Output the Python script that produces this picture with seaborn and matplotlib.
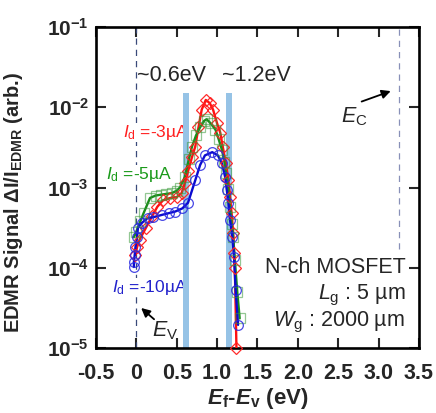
import numpy as np
import pandas as pd
import matplotlib
matplotlib.use("Agg")
import matplotlib.pyplot as plt
import seaborn as sns
from matplotlib.ticker import FixedLocator, FixedFormatter, NullLocator

# Ef-Ev (eV) and log10 of the EDMR signal
red_x = [-0.01, 0.01, 0.04, 0.12, 0.20, 0.26, 0.33, 0.42, 0.50, 0.56, 0.60, 0.64, 0.69,
         0.73, 0.77, 0.81, 0.86, 0.91, 0.95, 1.00, 1.04, 1.07, 1.11, 1.14, 1.16, 1.18,
         1.20, 1.21, 1.22, 1.24]
red_exp = [-3.84, -3.74, -3.65, -3.50, -3.35, -3.24, -3.16, -3.13, -3.12, -3.07, -2.95,
           -2.80, -2.62, -2.49, -2.25, -2.03, -1.91, -1.95, -2.03, -2.20, -2.32, -2.49,
           -2.70, -2.91, -3.12, -3.32, -3.57, -3.82, -4.00, -5.00]

green_x = [-0.03, 0.00, 0.05, 0.09, 0.17, 0.24, 0.30, 0.37, 0.44, 0.50, 0.54, 0.60, 0.65,
           0.69, 0.74, 0.79, 0.84, 0.87, 0.92, 0.98, 1.02, 1.06, 1.09, 1.11, 1.14, 1.16,
           1.18, 1.20, 1.22, 1.25, 1.28]
green_exp = [-3.62, -3.55, -3.42, -3.32, -3.13, -3.10, -3.09, -3.08, -3.07, -3.04, -3.00,
             -2.87, -2.65, -2.49, -2.35, -2.25, -2.17, -2.15, -2.20, -2.28, -2.40, -2.53,
             -2.68, -2.82, -3.02, -3.24, -3.45, -3.62, -3.90, -4.30, -4.63]

blue_x = [-0.03, -0.03, -0.02, -0.01, 0.01, 0.02, 0.07, 0.14, 0.21, 0.32, 0.40, 0.48,
          0.57, 0.64, 0.73, 0.79, 0.85, 0.94, 1.01, 1.06, 1.10, 1.12, 1.14, 1.16, 1.19,
          1.21, 1.23, 1.26]
blue_exp = [-3.99, -3.93, -3.84, -3.74, -3.62, -3.50, -3.44, -3.38, -3.37, -3.34, -3.32,
            -3.30, -3.26, -3.19, -2.91, -2.72, -2.60, -2.56, -2.60, -2.70, -2.87, -3.03,
            -3.19, -3.40, -3.62, -3.87, -4.28, -4.71]

ev_pos = 0.0
ec_pos = 3.25
ec_line_bottom = 1.7e-4
bands = [(0.58, 0.65), (1.11, 1.18)]
band_top = 1.5e-2

x_ticks = [-0.5, 0, 0.5, 1.0, 1.5, 2.0, 2.5, 3.0, 3.5]
x_labels = ["-0.5", "0", "0.5", "1.0", "1.5", "2.0", "2.5", "3.0", "3.5"]
y_ticks = [1e-5, 1e-4, 1e-3, 1e-2, 1e-1]
y_labels = [r"$\mathbf{10^{-5}}$", r"$\mathbf{10^{-4}}$", r"$\mathbf{10^{-3}}$",
            r"$\mathbf{10^{-2}}$", r"$\mathbf{10^{-1}}$"]

sns.set_style("ticks")
plt.rcParams["font.family"] = ["Liberation Sans", "DejaVu Sans"]
plt.rcParams.update({
    "mathtext.fontset": "custom",
    "mathtext.rm": "Liberation Sans",
    "mathtext.sf": "Liberation Sans",
    "mathtext.it": "Liberation Sans:italic",
    "mathtext.bf": "Liberation Sans:bold",
    "mathtext.bfit": "Liberation Sans:bold:italic",
})

fig = plt.figure(figsize=(4.36, 4.13), dpi=100)
ax = fig.add_axes([0.220, 0.157, 0.741, 0.778])

series = [
    (red_x, red_exp, "#ff1010", "#ff2020", "D", 6.5, 0.95),
    (green_x, green_exp, "#1a8c1a", "#3a9a3a", "s", 7.0, 0.55),
    (blue_x, blue_exp, "#0a0ad0", "#2828e0", "o", 7.0, 0.85),
]
for xs, ex, lcol, mcol, mk, ms, malpha in series:
    df = pd.DataFrame({"x": xs, "y": 10.0 ** np.array(ex)})
    sns.lineplot(data=df, x="x", y="y", sort=False, estimator=None, color=lcol,
                 lw=1.7, ax=ax, zorder=3)
    sns.lineplot(data=df, x="x", y="y", sort=False, estimator=None, color=mcol,
                 linestyle="none", marker=mk, markersize=ms, markerfacecolor="none",
                 markeredgecolor=mcol, markeredgewidth=0.9, alpha=malpha, ax=ax,
                 zorder=4, clip_on=False)

ax.set_yscale("log")
ax.set_xlim(-0.5, 3.5)
ax.set_ylim(1e-5, 1e-1)

frac = (np.log10(band_top) + 5) / 4
for lo, hi in bands:
    ax.axvspan(lo, hi, ymin=0, ymax=frac, color="#96c3e6", lw=0, zorder=1.3)

ax.axvline(ev_pos, color="#3a4a7a", lw=0.9, ls=(0, (5, 4)), zorder=1.0)
ax.vlines(ec_pos, ec_line_bottom, 1e-1, color="#8890b8", lw=0.9, ls=(0, (5, 4)), zorder=1.0)

ax.xaxis.set_major_locator(FixedLocator(x_ticks))
ax.xaxis.set_major_formatter(FixedFormatter(x_labels))
ax.yaxis.set_major_locator(FixedLocator(y_ticks))
ax.yaxis.set_major_formatter(FixedFormatter(y_labels))
ax.yaxis.set_minor_locator(NullLocator())
ax.xaxis.set_minor_locator(NullLocator())
ax.tick_params(direction="in", length=7, width=1.5, top=True, right=True, labelsize=15)
ax.tick_params(axis="x", pad=11, labelsize=15.5)
ax.tick_params(axis="y", pad=5)
for lab in ax.get_xticklabels():
    lab.set_fontweight("bold")
for sp in ax.spines.values():
    sp.set_linewidth(1.9)
    sp.set_color("black")

ax.set_xlabel(r"$\mathbfit{E}_{\mathbf{f}}$-$\mathbfit{E}_{\mathbf{v}}$ (eV)",
              fontsize=16, fontweight="bold", labelpad=1)
ax.set_ylabel(r"EDMR Signal ΔI/I$_{\mathbf{EDMR}}$ (arb.)", fontsize=14.5,
              fontweight="bold")
ax.yaxis.set_label_coords(-0.22, 0.455)

# labels sit on white so the Ev dashed line breaks behind them, but stay under the bands
white = dict(facecolor="white", edgecolor="none", pad=0)
ax.text(0.01, 10 ** -1.6, "~0.6eV", fontsize=15.5, va="center", ha="left")
ax.text(1.06, 10 ** -1.6, "~1.2eV", fontsize=15.5, va="center", ha="left")
ax.text(-0.16, 10 ** -2.31, r"$I_{\rm d}$ =-3µA", fontsize=12.5, color="#ff2020",
        va="center", bbox=white, zorder=1.2)
ax.text(-0.38, 10 ** -2.84, r"$I_{\rm d}$ =-5µA", fontsize=12.5, color="#1a9a1a",
        va="center", bbox=white, zorder=1.2)
ax.text(-0.30, 10 ** -4.24, r"$I_{\rm d}$ =-10µA", fontsize=12.5, color="#2222cc",
        va="center", bbox=white, zorder=1.2)

arrow = dict(arrowstyle="-|>", color="black", lw=1.3, mutation_scale=13,
             shrinkA=0, shrinkB=0)
ax.text(0.19, 10 ** -4.78, r"$E_{\rm V}$", fontsize=15.5, va="center", ha="left")
ax.annotate("", xy=(0.06, 10 ** -4.50), xytext=(0.22, 10 ** -4.64), arrowprops=arrow)
ax.text(2.54, 10 ** -2.12, r"$E_{\rm C}$", fontsize=15.5, va="center", ha="left")
ax.annotate("", xy=(3.15, 10 ** -1.80), xytext=(2.79, 10 ** -1.93), arrowprops=arrow)

ax.text(3.33, 10 ** -4.0, "N-ch MOSFET", fontsize=15.5, ha="right", va="center")
ax.text(3.33, 10 ** -4.34, r"$L_{\rm g}$ : 5 µm", fontsize=15.5, ha="right", va="center")
ax.text(3.33, 10 ** -4.68, r"$W_{\rm g}$ : 2000 µm", fontsize=15.5, ha="right", va="center")

fig.savefig("out.png", dpi=100)
